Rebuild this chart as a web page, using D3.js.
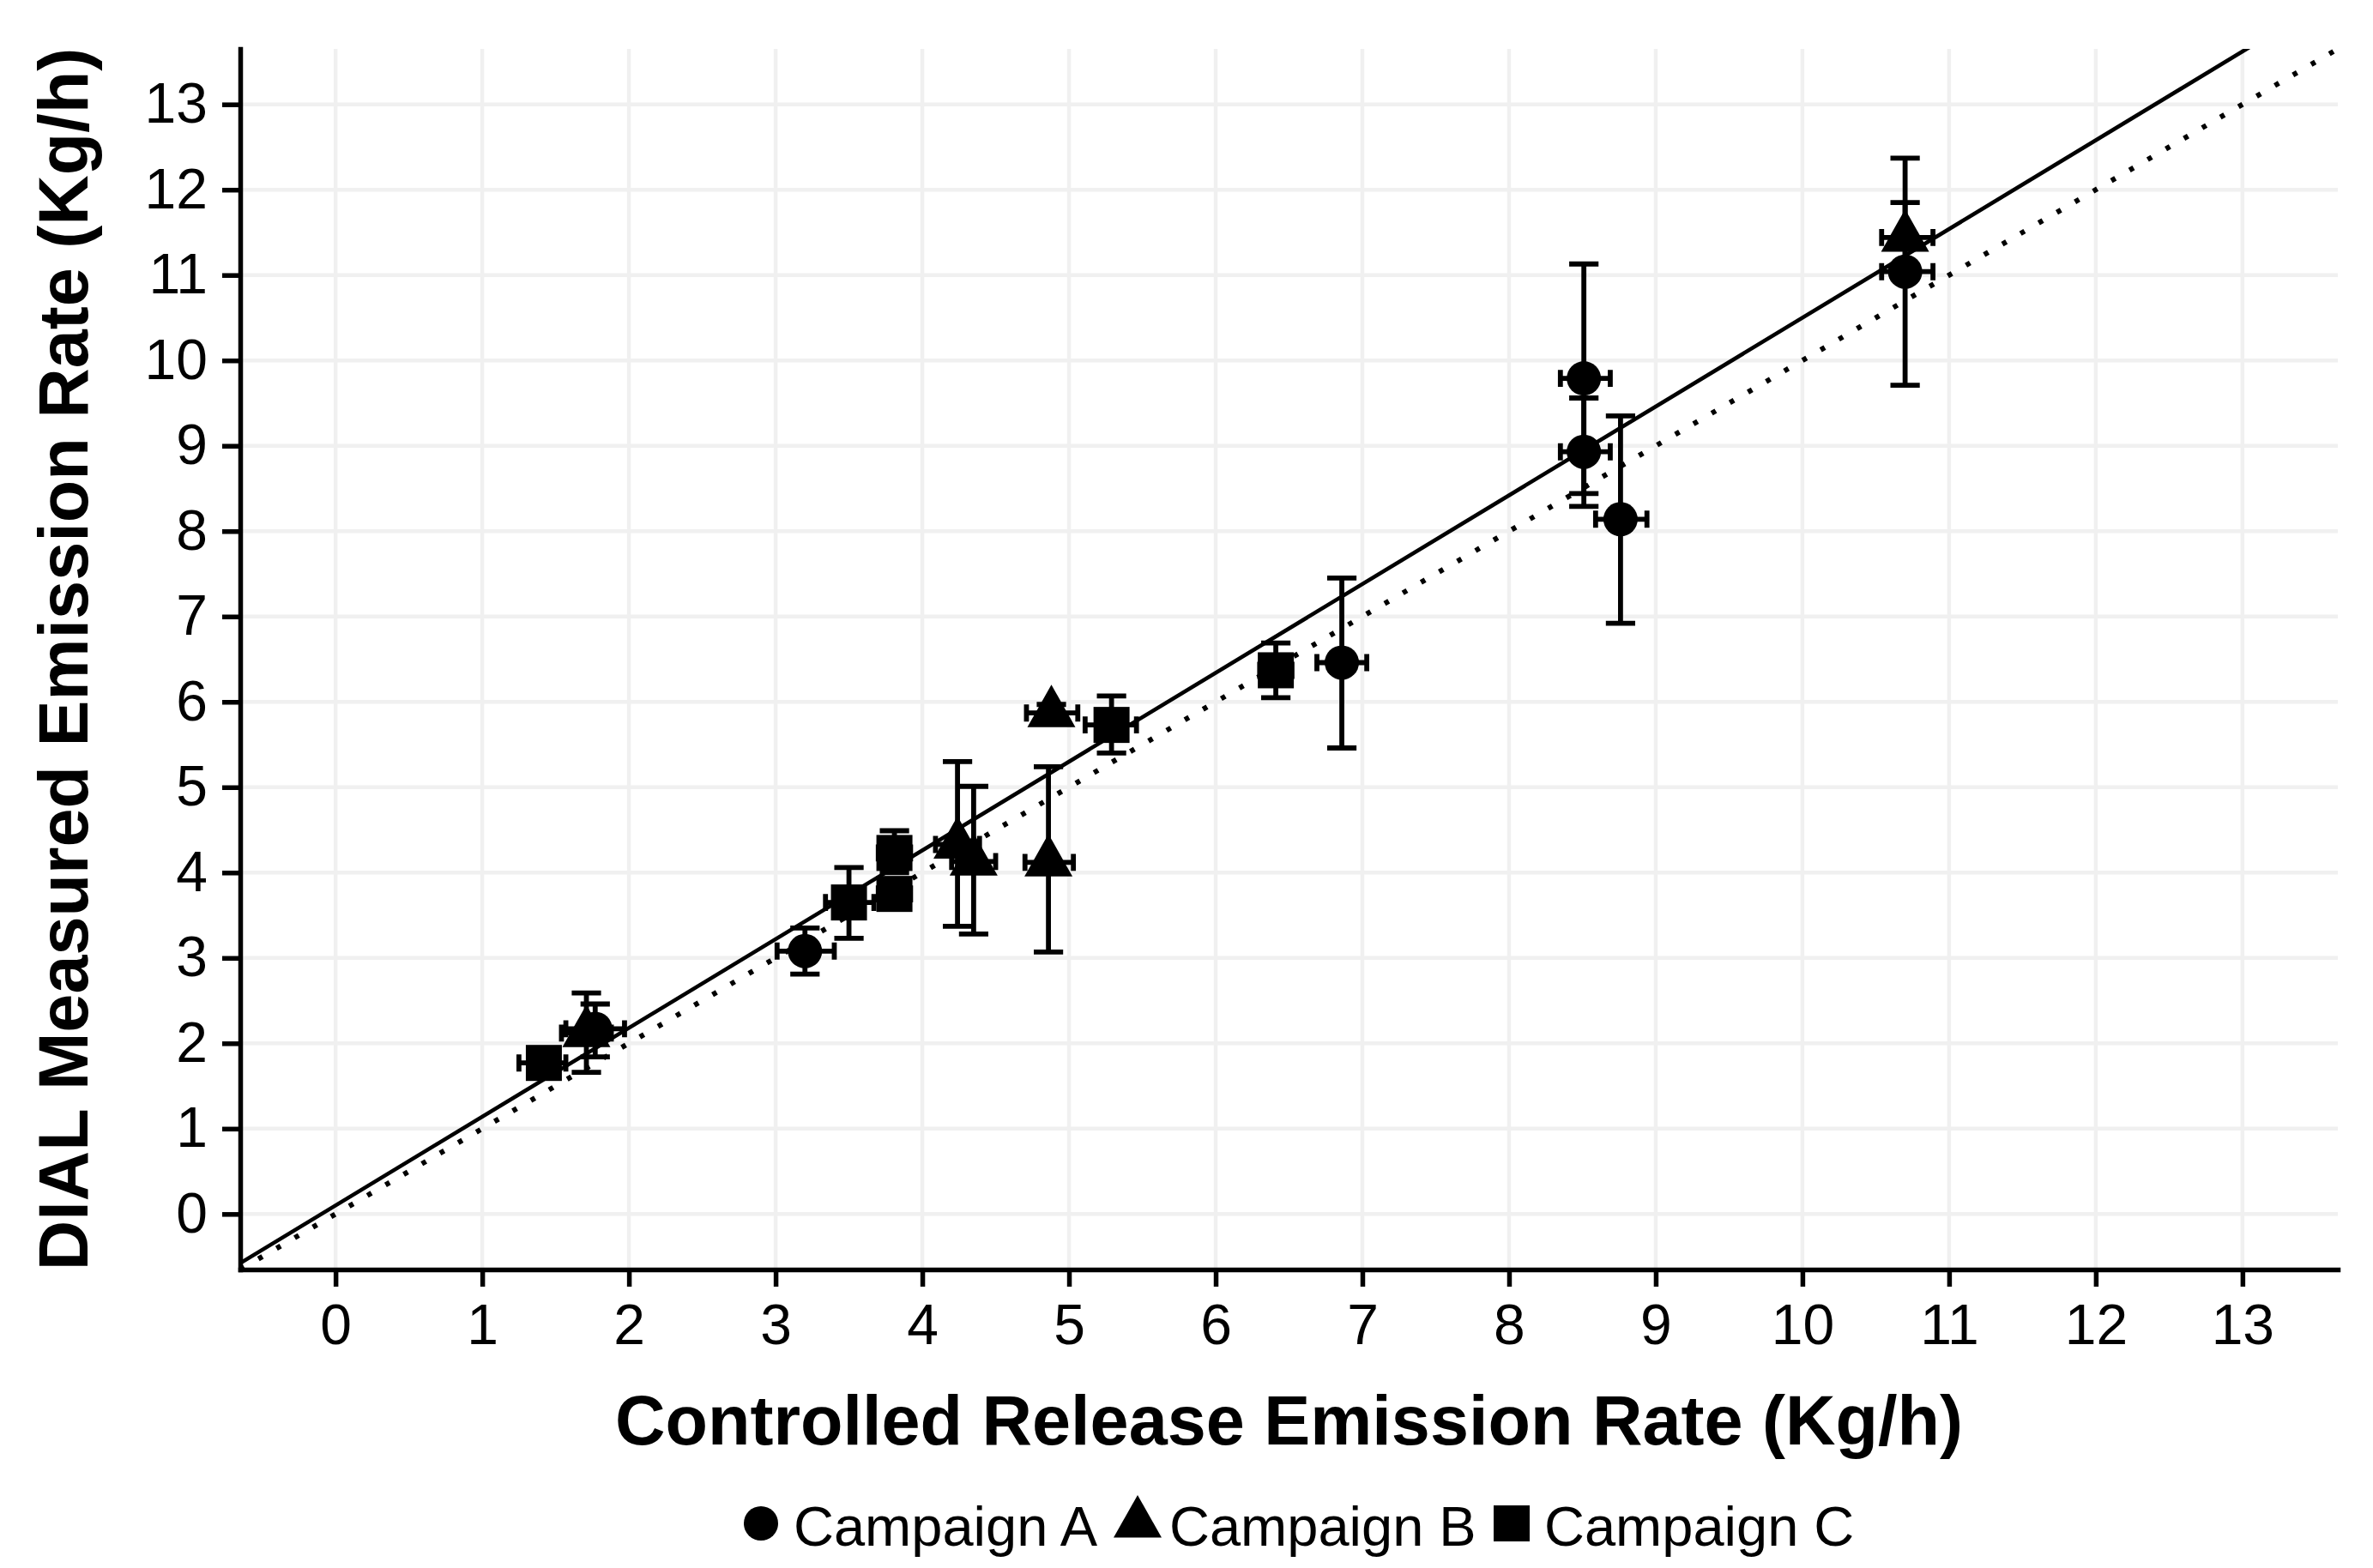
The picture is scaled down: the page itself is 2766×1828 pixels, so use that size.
<!DOCTYPE html>
<html>
<head>
<meta charset="utf-8">
<script src="https://cdn.jsdelivr.net/npm/d3@7"></script>
<style>
  body { margin: 0; background: #fff; }
  svg { display: block; font-family: "Liberation Sans", Arial, sans-serif; }
</style>
</head>
<body>
<svg id="chart" width="2766" height="1828"></svg>
<script>
// values
const ticks = [0, 1, 2, 3, 4, 5, 6, 7, 8, 9, 10, 11, 12, 13];

const campA_x    = [1.77, 3.20, 6.86, 8.51, 8.51, 8.76, 10.70];
const campA_y    = [2.17, 3.08, 6.46, 9.79, 8.93, 8.14, 11.04];
const campA_yLo  = [1.84, 2.81, 5.46, 8.29, 8.44, 6.92, 9.71];
const campA_yHi  = [2.46, 3.35, 7.45, 11.13, 9.56, 9.35, 12.37];
const campA_xLo  = [1.57, 3.01, 6.69, 8.35, 8.35, 8.59, 10.54];
const campA_xHi  = [1.97, 3.40, 7.03, 8.69, 8.69, 8.94, 10.89];

const campB_x    = [1.71, 4.24, 4.35, 4.86, 4.88, 10.70];
const campB_y    = [2.12, 4.33, 4.13, 4.12, 5.87, 11.44];
const campB_yLo  = [1.66, 3.37, 3.28, 3.07, 5.77, 11.03];
const campB_yHi  = [2.59, 5.30, 5.01, 5.24, 5.97, 11.85];
const campB_xLo  = [1.54, 4.09, 4.20, 4.70, 4.71, 10.54];
const campB_xHi  = [1.88, 4.39, 4.50, 5.03, 5.06, 10.89];

const campC_x    = [1.42, 3.50, 3.81, 3.81, 5.29, 6.41];
const campC_y    = [1.77, 3.65, 3.75, 4.23, 5.73, 6.37];
const campC_yLo  = [1.68, 3.23, 3.62, 4.00, 5.40, 6.05];
const campC_yHi  = [1.86, 4.06, 3.88, 4.49, 6.07, 6.69];
const campC_xLo  = [1.25, 3.34, 3.70, 3.70, 5.11, 6.30];
const campC_xHi  = [1.57, 3.67, 3.92, 3.92, 5.46, 6.52];

// fitted line (solid) and 1:1 line (dotted)
const fitSlope = 1.04;
const fitIntercept = 0.10;

const legendNames = ['Campaign A', 'Campaign B', 'Campaign C'];

const svg = d3.select('#chart');
const pLeft = 280, pRight = 2725, pTop = 57, pBottom = 1480;

const x = d3.scaleLinear().domain([-0.65, 13.65]).range([pLeft, pRight]);
const y = d3.scaleLinear().domain([-0.65, 13.65]).range([pBottom, pTop]);

const toRows = (xs, ys, yl, yh, xl, xh) =>
    xs.map((v, i) => ({ x: v, y: ys[i], yLo: yl[i], yHi: yh[i], xLo: xl[i], xHi: xh[i] }));

const series = [
    { shape: 'circle', rows: toRows(campA_x, campA_y, campA_yLo, campA_yHi, campA_xLo, campA_xHi) },
    { shape: 'triangle', rows: toRows(campB_x, campB_y, campB_yLo, campB_yHi, campB_xLo, campB_xHi) },
    { shape: 'square', rows: toRows(campC_x, campC_y, campC_yLo, campC_yHi, campC_xLo, campC_xHi) },
];

// grid
const grid = svg.append('g').attr('stroke', '#f0f0f0').attr('stroke-width', 4.5);
grid.selectAll('.gx').data(ticks).enter().append('line')
    .attr('x1', d => x(d)).attr('x2', d => x(d))
    .attr('y1', pTop).attr('y2', pBottom);
grid.selectAll('.gy').data(ticks).enter().append('line')
    .attr('y1', d => y(d)).attr('y2', d => y(d))
    .attr('x1', pLeft).attr('x2', pRight);

// reference lines, clipped to the panel
svg.append('clipPath').attr('id', 'panel')
    .append('rect').attr('x', pLeft).attr('y', pTop)
    .attr('width', pRight - pLeft).attr('height', pBottom - pTop);

const ends = x.domain();
const lineGen = d3.line().x(d => x(d[0])).y(d => y(d[1]));

svg.append('path')
    .attr('clip-path', 'url(#panel)')
    .attr('d', lineGen(ends.map(v => [v, v])))
    .attr('fill', 'none').attr('stroke', '#000')
    .attr('stroke-width', 6).attr('stroke-dasharray', '5.5 19');

svg.append('path')
    .attr('clip-path', 'url(#panel)')
    .attr('d', lineGen(ends.map(v => [v, fitIntercept + fitSlope * v])))
    .attr('fill', 'none').attr('stroke', '#000').attr('stroke-width', 4.6);

// error bars
const capW = 0.1;   // half width of vertical-bar caps, in x units
const capH = 0.1;   // half height of horizontal-bar caps, in y units
const bars = svg.append('g').attr('stroke', '#000').attr('stroke-width', 5.8).attr('fill', 'none');

series.forEach(s => {
    s.rows.forEach(d => {
        const p = d3.path();
        p.moveTo(x(d.x), y(d.yLo)); p.lineTo(x(d.x), y(d.yHi));
        p.moveTo(x(d.x - capW), y(d.yLo)); p.lineTo(x(d.x + capW), y(d.yLo));
        p.moveTo(x(d.x - capW), y(d.yHi)); p.lineTo(x(d.x + capW), y(d.yHi));
        p.moveTo(x(d.xLo), y(d.y)); p.lineTo(x(d.xHi), y(d.y));
        p.moveTo(x(d.xLo), y(d.y - capH)); p.lineTo(x(d.xLo), y(d.y + capH));
        p.moveTo(x(d.xHi), y(d.y - capH)); p.lineTo(x(d.xHi), y(d.y + capH));
        bars.append('path').attr('d', p.toString());
    });
});

// point shapes
function drawShape(g, shape, cx, cy, k) {
    if (shape === 'circle') {
        g.append('circle').attr('cx', cx).attr('cy', cy).attr('r', 20 * k);
    } else if (shape === 'triangle') {
        g.append('path').attr('d',
            `M${cx},${cy - 33 * k}L${cx + 28 * k},${cy + 16.5 * k}L${cx - 28 * k},${cy + 16.5 * k}Z`);
    } else {
        g.append('rect').attr('x', cx - 21 * k).attr('y', cy - 21 * k)
            .attr('width', 42 * k).attr('height', 42 * k);
    }
}

const pts = svg.append('g').attr('fill', '#000');
series.forEach(s => s.rows.forEach(d => drawShape(pts, s.shape, x(d.x), y(d.y), 1)));

// axes
const xAxis = svg.append('g').attr('transform', `translate(0,${pBottom})`)
    .call(d3.axisBottom(x).tickValues(ticks).tickFormat(d3.format('d'))
        .tickSize(20).tickSizeOuter(0).tickPadding(20));
const yAxis = svg.append('g').attr('transform', `translate(${pLeft},0)`)
    .call(d3.axisLeft(y).tickValues(ticks).tickFormat(d3.format('d'))
        .tickSize(21).tickSizeOuter(0).tickPadding(17));

[xAxis, yAxis].forEach(a => {
    a.select('.domain').attr('stroke', '#000').attr('stroke-width', 5.5).attr('stroke-linecap', 'square');
    a.selectAll('.tick line').attr('stroke', '#000').attr('stroke-width', 5.5);
    a.selectAll('.tick text').attr('fill', '#000')
        .style('font-family', '"Liberation Sans", Arial, sans-serif').style('font-size', '66px');
});

// axis titles
svg.append('text')
    .attr('x', (pLeft + pRight) / 2).attr('y', 1684)
    .attr('text-anchor', 'middle')
    .style('font-size', '81px').style('font-weight', 'bold')
    .text('Controlled Release Emission Rate (Kg/h)');

svg.append('text')
    .attr('transform', `translate(102,${(pTop + pBottom) / 2}) rotate(-90)`)
    .attr('text-anchor', 'middle')
    .style('font-size', '81px').style('font-weight', 'bold')
    .text('DIAL Measured Emission Rate (Kg/h)');

// legend
const legendKeyX = [887, 1326, 1762];
const legendTextX = [925, 1363, 1800];
const legend = svg.append('g').attr('fill', '#000');
series.forEach((s, i) => {
    drawShape(legend, s.shape, legendKeyX[i], 1776, 1);
    legend.append('text')
        .attr('x', legendTextX[i]).attr('y', 1802)
        .style('font-size', '65px')
        .text(legendNames[i]);
});
</script>
</body>
</html>
